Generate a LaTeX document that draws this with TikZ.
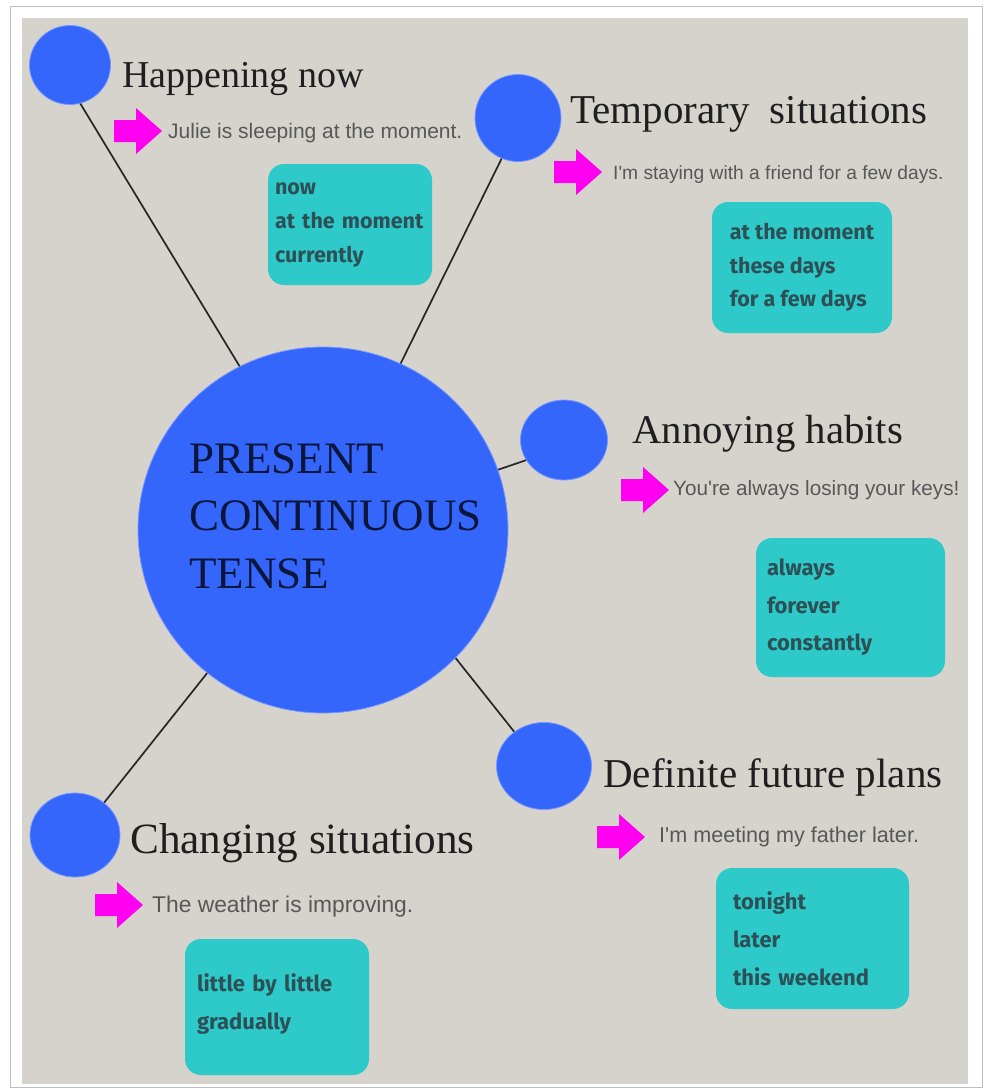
\documentclass[tikz,border=0pt]{standalone}
\usepackage{fontspec}
\setmainfont{Liberation Serif}
\newfontfamily\exfont{Liberation Sans}
\newfontfamily\boxfont{Fira Sans}
\usetikzlibrary{shapes.geometric}
\definecolor{bgbeige}{RGB}{214,211,204}
\definecolor{framegray}{RGB}{190,190,190}
\definecolor{bubble}{RGB}{52,102,252}
\definecolor{bubbleedge}{RGB}{120,150,255}
\definecolor{tealbox}{RGB}{46,202,202}
\definecolor{boxtext}{RGB}{45,80,86}
\definecolor{extext}{RGB}{88,88,88}
\definecolor{pinkarrow}{RGB}{255,0,240}
\definecolor{centertext}{RGB}{10,22,60}
\begin{document}
\begin{tikzpicture}[x=1pt,y=-1pt,
  bubblenode/.style={ellipse, fill=bubble, draw=bubbleedge, line width=0.8pt, inner sep=0pt},
  titletext/.style={anchor=base west, inner sep=0pt, text=black!88},
  extxt/.style={anchor=base west, inner sep=0pt, text=extext},
  wordbox/.style={rectangle, rounded corners=16pt, fill=tealbox, inner sep=0pt, align=left, text=boxtext, font=\boxfont\bfseries\fontsize{21.5}{34}\selectfont},
  connector/.style={draw=black!85, line width=1.7pt},
  pics/parrow/.style={code={\fill[pinkarrow] (0,-11) -- (22,-11) -- (22,-23) -- (48,0) -- (22,23) -- (22,11) -- (0,11) -- cycle;}}
]
\useasboundingbox (0,0) rectangle (984,1090);
\fill[white] (0,0) rectangle (984,1090);
\draw[framegray, line width=1pt] (10,6) rectangle (982,1087);
\fill[bgbeige] (22,18) rectangle (968,1084);

% central bubble
\node[bubblenode, minimum width=370pt, minimum height=366pt] (pc) at (323,530) {};

% small bubbles
\node[bubblenode, minimum width=81pt, minimum height=79pt] (hn) at (70,65) {};
\node[bubblenode, minimum width=86pt, minimum height=87pt] (ts) at (518,118) {};
\node[bubblenode, minimum width=87pt, minimum height=80pt] (ah) at (564,440) {};
\node[bubblenode, minimum width=95pt, minimum height=87pt] (df) at (544,766) {};
\node[bubblenode, minimum width=90pt, minimum height=84pt] (cs) at (75,835) {};

% connectors
\draw[connector] (hn.-75) -- (pc.117);
\draw[connector] (ts.-112) -- (pc.65);
\draw[connector] (ah.208) -- (pc.19);
\draw[connector] (df.131) -- (pc.-44);
\draw[connector] (cs.48) -- (pc.-129);

% central text
\node[anchor=base west, inner sep=0pt, align=left, text=centertext,
      font=\fontsize{45}{57.5}\selectfont] (pct) at (189,588) {PRESENT\\CONTINUOUS\\TENSE};

% titles
\node[titletext, font=\fontsize{38}{40}\selectfont] (t1) at (122,87) {Happening now};
\node[titletext, font=\fontsize{41}{42}\selectfont] (t2) at (570,123) {Temporary\ \ situations};
\node[titletext, font=\fontsize{40.8}{42}\selectfont] (t3) at (632,443) {Annoying habits};
\node[titletext, font=\fontsize{41}{42}\selectfont] (t4) at (603,787) {Definite future plans};
\node[titletext, font=\fontsize{43.2}{44}\selectfont] (t5) at (130,853) {Changing situations};

% pink arrows
\pic at (114,131) {parrow};
\pic at (554,172) {parrow};
\pic at (621,490) {parrow};
\pic at (597,837) {parrow};
\pic at (95,905) {parrow};

% example sentences
\node[extxt, font=\exfont\fontsize{21}{22}\selectfont] (e1) at (168,138) {Julie is sleeping at the moment.};
\node[extxt, font=\exfont\fontsize{19.2}{21}\selectfont] (e2) at (613,179) {I'm staying with a friend for a few days.};
\node[extxt, font=\exfont\fontsize{20.7}{22}\selectfont] (e3) at (673,495) {You're always losing your keys!};
\node[extxt, font=\exfont\fontsize{21.6}{23}\selectfont] (e4) at (659,842) {I'm meeting my father later.};
\node[extxt, font=\exfont\fontsize{22.8}{24}\selectfont] (e5) at (152,912) {The weather is improving.};

% word boxes
\node[wordbox, minimum width=164pt, minimum height=121pt, text width=150pt] (b1) at (350,224.5) {now\\at the moment\\currently};
\node[wordbox, minimum width=180pt, minimum height=131pt, font=\boxfont\bfseries\fontsize{21.5}{33.5}\selectfont] (b2) at (802,267.5) {at the moment\\these days\\for a few days};
\node[wordbox, minimum width=189pt, minimum height=139pt, text width=167pt, font=\boxfont\bfseries\fontsize{22}{37.5}\selectfont] (b3) at (850.5,607.5) {always\\forever\\constantly};
\node[wordbox, minimum width=193pt, minimum height=141pt, text width=159pt, font=\boxfont\bfseries\fontsize{22}{38}\selectfont] (b4) at (812.5,938.5) {tonight\\later\\this weekend};
\node[wordbox, minimum width=184pt, minimum height=136pt, text width=160pt, font=\boxfont\bfseries\fontsize{22}{38}\selectfont] (b5) at (277,1007) {little by little\\gradually\rule[-11pt]{0pt}{1pt}};
\end{tikzpicture}
\end{document}
